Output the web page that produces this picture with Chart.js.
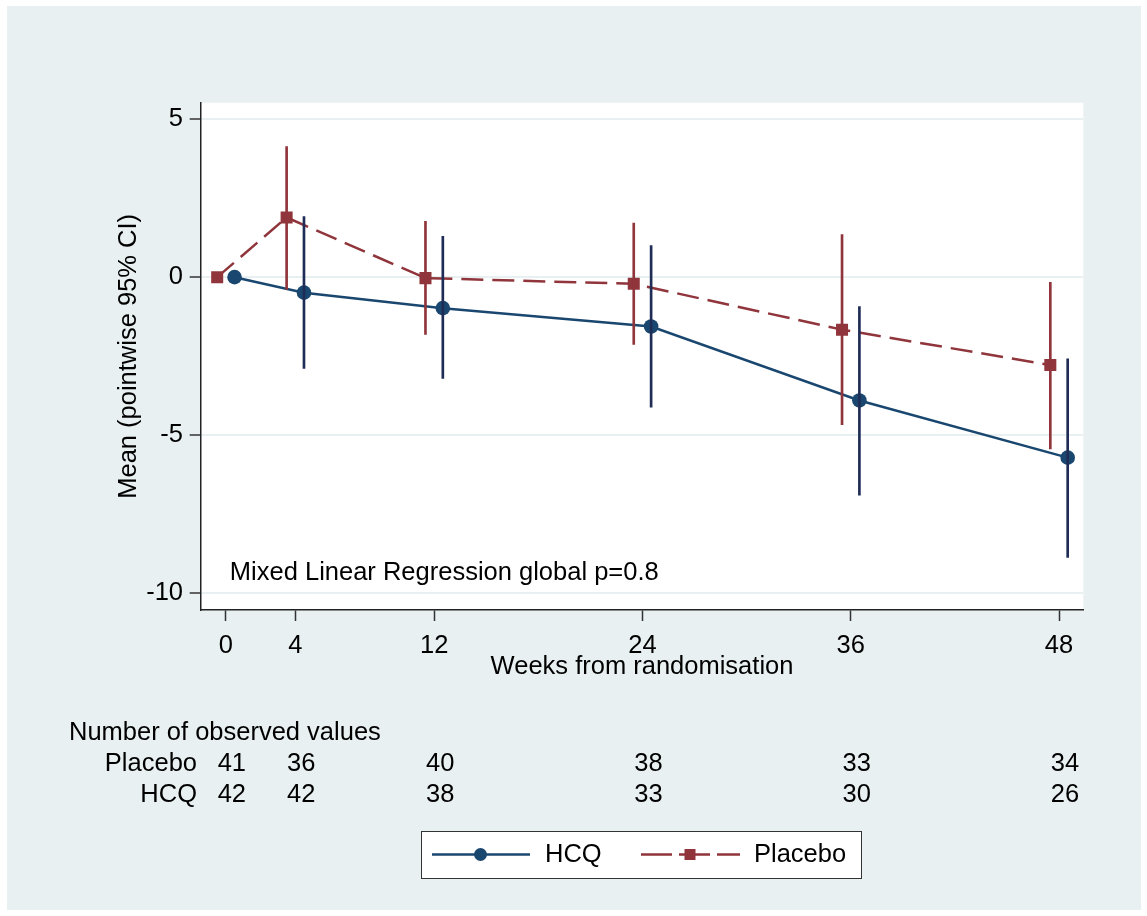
<!DOCTYPE html>
<html>
<head>
<meta charset="utf-8">
<script src="https://cdn.jsdelivr.net/npm/chart.js@4.4.1/dist/chart.umd.min.js"></script>
<style>
  html, body { margin: 0; padding: 0; background: #fff; }
  #wrap { width: 1147px; height: 916px; position: relative; }
</style>
</head>
<body>
<div id="wrap"><canvas id="chart"></canvas></div>
<script>
// weeks from randomisation
const weeks = [0, 4, 12, 24, 36, 48];

// HCQ: mean change and pointwise 95% CI
const hcqMean = [0, -0.49, -0.98, -1.56, -3.90, -5.71];
const hcqLo   = [null, -2.89, -3.20, -4.11, -6.90, -8.87];
const hcqHi   = [null, 1.92, 1.29, 1.00, -0.93, -2.58];

// Placebo: mean change and pointwise 95% CI
const placeboMean = [0, 1.89, -0.03, -0.21, -1.66, -2.78];
const placeboLo   = [null, -0.39, -1.81, -2.13, -4.67, -5.43];
const placeboHi   = [null, 4.13, 1.77, 1.71, 1.35, -0.16];

// number of observed values
const placeboN = [41, 36, 40, 38, 33, 34];
const hcqN     = [42, 42, 38, 33, 30, 26];

const yTicks = [-10, -5, 0, 5];
const annotation = 'Mixed Linear Regression global p=0.8';

const HCQ_LINE = '#1a476f';
const HCQ_SPIKE = '#1f2d56';
const PLA = '#90353b';
const BG = '#e8f0f2';
const FONT = '"Liberation Sans", Arial, sans-serif';
const FS = 25.5;
const SHIFT = 0.5; // horizontal jitter so the two groups don't overlap

const pts = (means, dx) => weeks.map((w, i) => ({ x: w + dx, y: means[i] }));
const spikes = (lo, hi, dx) => weeks
  .map((w, i) => lo[i] == null ? null : { x: w + dx, y: [lo[i], hi[i]] })
  .filter(Boolean);

const stataPlugin = {
  id: 'stata',
  beforeDraw(chart) {
    const { ctx, chartArea: a } = chart;
    ctx.save();
    ctx.fillStyle = '#fff';
    ctx.fillRect(0, 0, chart.width, chart.height);
    ctx.fillStyle = BG;
    ctx.fillRect(7, 6, 1134, 904);
    ctx.fillStyle = '#fff';
    ctx.fillRect(a.left, a.top, a.right - a.left, a.bottom - a.top);
    ctx.restore();
  },
  afterDraw(chart) {
    const { ctx } = chart;
    const xs = chart.scales.x, ys = chart.scales.y;
    ctx.save();
    ctx.fillStyle = '#000';
    ctx.font = FS + 'px ' + FONT;
    ctx.textBaseline = 'middle';

    // annotation inside the plot
    ctx.textAlign = 'left';
    ctx.fillText(annotation, xs.getPixelForValue(0) + 4, ys.getPixelForValue(-9.35));

    // table of observed values
    ctx.fillText('Number of observed values', 69, 733);
    ctx.textAlign = 'right';
    ctx.fillText('Placebo', 197, 764);
    ctx.fillText('HCQ', 197, 795);
    ctx.textAlign = 'center';
    weeks.forEach((w, i) => {
      const px = xs.getPixelForValue(w) + 6;
      ctx.fillText(String(placeboN[i]), px, 764);
      ctx.fillText(String(hcqN[i]), px, 795);
    });

    // legend box
    ctx.fillStyle = '#fff';
    ctx.fillRect(421, 831, 441, 48);
    ctx.strokeStyle = '#333';
    ctx.lineWidth = 1;
    ctx.strokeRect(421.5, 831.5, 440, 47);
    const ly = 854.5;
    // HCQ key
    ctx.strokeStyle = HCQ_LINE;
    ctx.lineWidth = 2.5;
    ctx.beginPath(); ctx.moveTo(432, ly); ctx.lineTo(530, ly); ctx.stroke();
    ctx.fillStyle = HCQ_LINE;
    ctx.beginPath(); ctx.arc(480.5, ly, 6.5, 0, Math.PI * 2); ctx.fill();
    // Placebo key
    ctx.strokeStyle = PLA;
    ctx.setLineDash([31, 7]);
    ctx.beginPath(); ctx.moveTo(641, ly); ctx.lineTo(740, ly); ctx.stroke();
    ctx.setLineDash([]);
    ctx.fillStyle = PLA;
    ctx.fillRect(684.5, ly - 5.5, 11, 11);
    ctx.fillStyle = '#000';
    ctx.textAlign = 'left';
    ctx.fillText('HCQ', 545, ly);
    ctx.fillText('Placebo', 754, ly);
    ctx.restore();
  }
};

Chart.defaults.font.family = FONT;
Chart.defaults.color = '#000';

new Chart(document.getElementById('chart'), {
  type: 'line',
  data: {
    datasets: [
      {
        type: 'bar', label: 'HCQ CI', order: 0,
        data: spikes(hcqLo, hcqHi, SHIFT),
        backgroundColor: HCQ_SPIKE, borderWidth: 0,
        barThickness: 2, grouped: false
      },
      {
        type: 'bar', label: 'Placebo CI', order: 0,
        data: spikes(placeboLo, placeboHi, -SHIFT),
        backgroundColor: PLA, borderWidth: 0,
        barThickness: 2, grouped: false
      },
      {
        label: 'HCQ', order: 2,
        data: pts(hcqMean, SHIFT),
        borderColor: HCQ_LINE, borderWidth: 2.5,
        pointStyle: 'circle', pointRadius: 7.3,
        pointBackgroundColor: HCQ_LINE, pointBorderWidth: 0,
        tension: 0, fill: false
      },
      {
        label: 'Placebo', order: 1,
        data: pts(placeboMean, -SHIFT),
        borderColor: PLA, borderWidth: 2.5, borderDash: [22, 9],
        pointStyle: 'rect', pointRadius: 8.5,
        pointBackgroundColor: PLA, pointBorderWidth: 0,
        tension: 0, fill: false
      }
    ]
  },
  options: {
    responsive: true,
    maintainAspectRatio: false,
    animation: false,
    layout: { padding: { left: 0, top: 102.7, right: 63.7, bottom: 232 } },
    plugins: { legend: { display: false }, tooltip: { enabled: false } },
    scales: {
      x: {
        type: 'linear', min: -1.45, max: 49.4, offset: false,
        afterFit: s => { s.height = 74; },
        afterBuildTicks: s => { s.ticks = weeks.map(v => ({ value: v })); },
        grid: { offset: false, drawOnChartArea: false, drawTicks: true, tickLength: 11, tickColor: '#333', tickWidth: 1.5 },
        border: { display: true, color: '#222', width: 1.5 },
        ticks: { font: { size: FS }, padding: 10, maxRotation: 0, autoSkip: false, color: '#000' },
        title: { display: true, text: 'Weeks from randomisation', font: { size: FS, lineHeight: 1.2 }, padding: { top: 0, bottom: 1.5 }, color: '#000' }
      },
      y: {
        type: 'linear', min: -10.53, max: 5.52,
        afterFit: s => { s.width = 200.7; },
        afterBuildTicks: s => { s.ticks = yTicks.map(v => ({ value: v })); },
        grid: { color: BG, lineWidth: 2, drawTicks: true, tickLength: 11, tickColor: '#333', tickWidth: 1.5 },
        border: { display: true, color: '#222', width: 1.5 },
        ticks: { font: { size: FS }, padding: 6.7, color: '#000' },
        title: { display: true, text: 'Mean (pointwise 95% CI)', font: { size: FS, lineHeight: 1.2 }, padding: { top: 114, bottom: 0 }, color: '#000' }
      }
    }
  },
  plugins: [stataPlugin]
});
</script>
</body>
</html>
